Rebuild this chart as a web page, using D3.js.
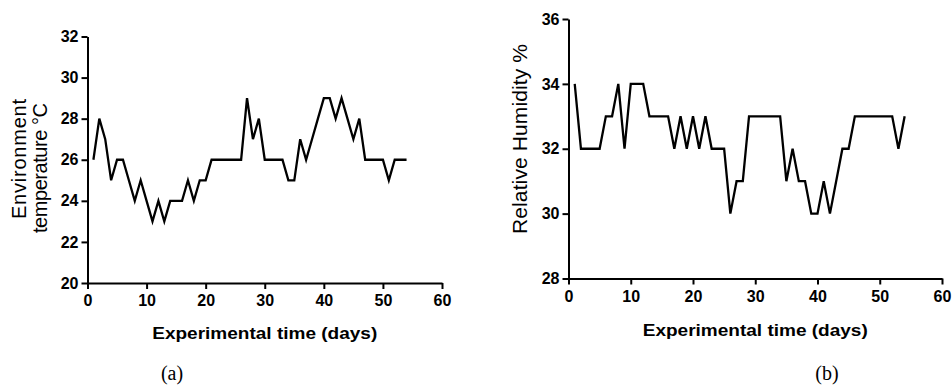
<!DOCTYPE html>
<html>
<head>
<meta charset="utf-8">
<script src="https://cdn.jsdelivr.net/npm/d3@7"></script>
<style>
  html, body { margin: 0; padding: 0; background: #fff; }
  svg { display: block; }
</style>
</head>
<body>
<svg id="chart" width="952" height="390"></svg>
<script>
const days = d3.range(1, 55);
const temperature = [26,28,27,25,26,26,25,24,25,24,23,24,23,24,24,24,25,24,25,25,
                     26,26,26,26,26,26,29,27,28,26,26,26,26,25,25,27,26,27,28,29,
                     29,28,29,28,27,28,26,26,26,26,25,26,26,26];
const humidity = [34,32,32,32,32,33,33,34,32,34,34,34,33,33,33,33,32,33,32,33,
                  32,33,32,32,32,30,31,31,33,33,33,33,33,33,31,32,31,31,30,30,
                  31,30,31,32,32,33,33,33,33,33,33,33,32,33];
const xTicks = [0, 10, 20, 30, 40, 50, 60];
const tempTicks = [20, 22, 24, 26, 28, 30, 32];
const humTicks = [28, 30, 32, 34, 36];
const xTitle = "Experimental time (days)";

const svg = d3.select("#chart");
const font = "Arial, 'Liberation Sans', sans-serif";

function styleAxis(g) {
  g.attr("font-family", null).attr("font-size", null);
  g.selectAll("path.domain").attr("stroke", "#000").attr("stroke-width", 2);
  g.selectAll(".tick line").attr("stroke", "#000").attr("stroke-width", 2);
  g.selectAll(".tick text")
    .attr("fill", "#000")
    .attr("font-family", font)
    .attr("font-weight", "bold")
    .attr("font-size", 16);
}

function panel(cfg) {
  const x = d3.scaleLinear().domain([0, 60]).range([cfg.x0, cfg.x1]);
  const y = d3.scaleLinear().domain(cfg.yDomain).range([cfg.yBottom, cfg.yTop]);

  svg.append("g")
    .attr("transform", `translate(0,${cfg.yBottom})`)
    .call(d3.axisBottom(x).tickValues(xTicks).tickSize(6).tickSizeOuter(0).tickPadding(6))
    .call(styleAxis);

  svg.append("g")
    .attr("transform", `translate(${cfg.x0},0)`)
    .call(d3.axisLeft(y).tickValues(cfg.yTicks).tickSize(6).tickSizeOuter(0).tickPadding(3))
    .call(styleAxis);

  const line = d3.line().x((d, i) => x(days[i])).y(d => y(d));
  svg.append("path").datum(cfg.values)
    .attr("d", line)
    .attr("fill", "none")
    .attr("stroke", "#000")
    .attr("stroke-width", 2.3)
    .attr("stroke-linejoin", "miter");

  svg.append("text")
    .attr("x", (cfg.x0 + cfg.x1) / 2).attr("y", cfg.yBottom + cfg.xtOff)
    .attr("text-anchor", "middle")
    .attr("textLength", 225).attr("lengthAdjust", "spacingAndGlyphs")
    .style("font-family", font).style("font-weight", "bold").style("font-size", "17px")
    .text(xTitle);

  cfg.yLabel.forEach((t, i) => {
    svg.append("text")
      .attr("transform", `translate(${cfg.ylX[i]},${cfg.ylY[i]}) rotate(-90)`)
      .attr("text-anchor", "middle")
      .attr("textLength", cfg.ylLen[i]).attr("lengthAdjust", "spacing")
      .style("font-family", font).style("font-size", cfg.ylSize + "px")
      .text(t);
  });

  svg.append("text")
    .attr("x", cfg.capX).attr("y", 380)
    .attr("text-anchor", "middle")
    .style("font-family", "'Times New Roman', 'Liberation Serif', serif")
    .style("font-size", "20px")
    .text(cfg.caption);
}

panel({
  x0: 87.5, x1: 442, yBottom: 283, yTop: 36.5, xtOff: 56,
  yDomain: [20, 32], yTicks: tempTicks, values: temperature,
  yLabel: ["Environment", "temperature °C"], ylX: [25.5, 46.5], ylY: [159, 168], ylLen: [120, 130], ylSize: 20,
  caption: "(a)", capX: 172
});

panel({
  x0: 568.5, x1: 942, yBottom: 278.5, yTop: 19, xtOff: 57,
  yDomain: [28, 36], yTicks: humTicks, values: humidity,
  yLabel: ["Relative Humidity %"], ylX: [527], ylY: [139], ylLen: [190], ylSize: 21,
  caption: "(b)", capX: 827
});
</script>
</body>
</html>
